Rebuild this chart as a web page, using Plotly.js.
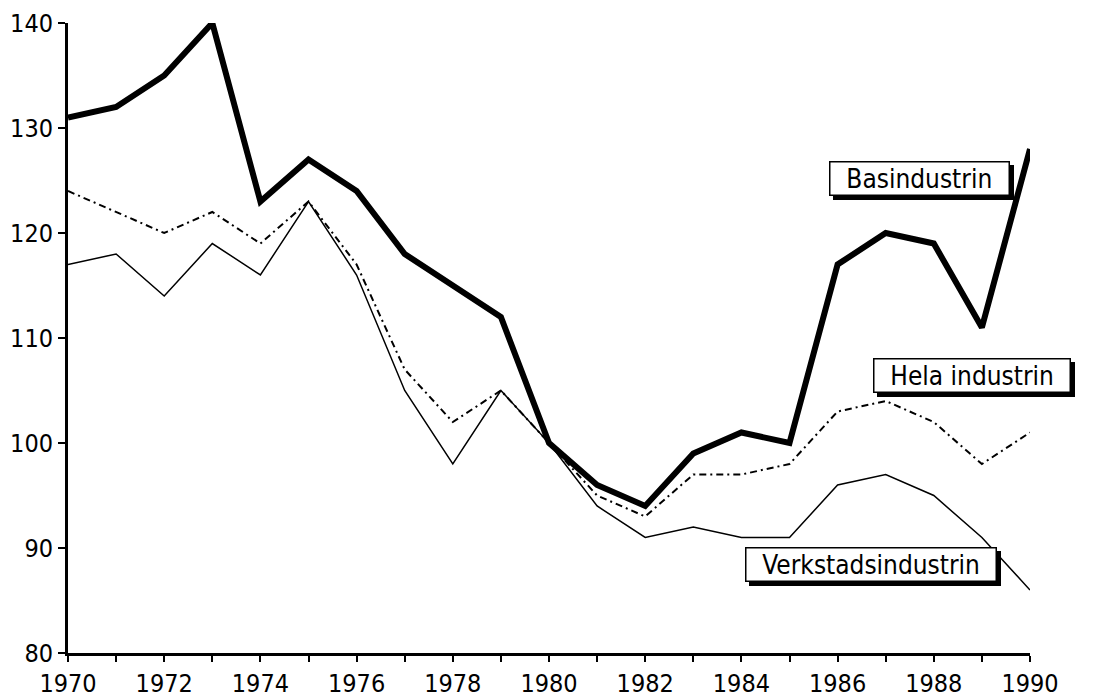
<!DOCTYPE html>
<html>
<head>
<meta charset="utf-8">
<script src="https://cdn.plot.ly/plotly-3.0.1.min.js"></script>
<style>
  body { margin: 0; background: #fff; }
  #plot { width: 1093px; height: 698px; }
  /* drop shadow under the boxed labels */
  #plot .annotation rect.bg { filter: drop-shadow(4px 4px 0 #000); }
</style>
</head>
<body>
<div id="plot"></div>
<script>
// years on the x axis
const years = [1970, 1971, 1972, 1973, 1974, 1975, 1976, 1977, 1978, 1979, 1980,
               1981, 1982, 1983, 1984, 1985, 1986, 1987, 1988, 1989, 1990];

// index values (1980 = 100)
const basindustrin = [131, 132, 135, 140, 123, 127, 124, 118, 115, 112, 100,
                      96, 94, 99, 101, 100, 117, 120, 119, 111, 128];
const helaIndustrin = [124, 122, 120, 122, 119, 123, 117, 107, 102, 105, 100,
                       95, 93, 97, 97, 98, 103, 104, 102, 98, 101];
const verkstadsindustrin = [117, 118, 114, 119, 116, 123, 116, 105, 98, 105, 100,
                            94, 91, 92, 91, 91, 96, 97, 95, 91, 86];

const yTicks = [80, 90, 100, 110, 120, 130, 140];

const fontFam = "DejaVu Sans Condensed, Liberation Sans Narrow, DejaVu Sans, sans-serif";

// Traces
let traceVerk = {
  x: years,
  y: verkstadsindustrin,
  type: "scatter",
  mode: "lines",
  name: "Verkstadsindustrin",
  line: { color: "#000", width: 1.5 }
};

let traceHela = {
  x: years,
  y: helaIndustrin,
  type: "scatter",
  mode: "lines",
  name: "Hela industrin",
  line: { color: "#000", width: 2, dash: "7px,4px,2px,4px" }
};

let traceBas = {
  x: years,
  y: basindustrin,
  type: "scatter",
  mode: "lines",
  name: "Basindustrin",
  line: { color: "#000", width: 6 }
};

// boxed labels (nbsp gives the side padding)
function boxLabel(text, x, y) {
  return {
    x: x, y: y, xref: "x", yref: "y",
    text: "\u00a0\u00a0" + text + "\u00a0\u00a0", showarrow: false,
    font: { family: fontFam, size: 26, color: "#000" },
    bgcolor: "#fff", bordercolor: "#000",
    borderpad: 1, borderwidth: 1.5
  };
}

let annotations = [
  boxLabel("Basindustrin", 1987.7, 125.2),
  boxLabel("Hela industrin", 1988.8, 106.4),
  boxLabel("Verkstadsindustrin", 1986.7, 88.4)
];

let layout = {
  width: 1093,
  height: 698,
  margin: { l: 68, r: 63, t: 23, b: 45 },
  paper_bgcolor: "#fff",
  plot_bgcolor: "#fff",
  showlegend: false,
  font: { family: fontFam, size: 23, color: "#000" },
  xaxis: {
    range: [1970, 1990],
    tickvals: years.filter(y => y % 2 === 0),
    showgrid: false,
    zeroline: false,
    showline: true,
    linecolor: "#000",
    linewidth: 3,
    ticks: "outside",
    ticklen: 6,
    tickwidth: 2,
    tickcolor: "#000",
    minor: { tickvals: years.filter(y => y % 2 === 1), ticks: "outside", ticklen: 6, tickwidth: 2, tickcolor: "#000" },
    tickfont: { family: fontFam, size: 25 }
  },
  yaxis: {
    range: [80, 140],
    tickvals: yTicks,
    showgrid: false,
    zeroline: false,
    showline: true,
    linecolor: "#000",
    linewidth: 3,
    ticks: "outside",
    ticklen: 7,
    tickwidth: 2,
    tickcolor: "#000",
    tickfont: { family: fontFam, size: 25 }
  },
  annotations: annotations
};

Plotly.newPlot("plot", [traceVerk, traceHela, traceBas], layout, { displayModeBar: false });
</script>
</body>
</html>
